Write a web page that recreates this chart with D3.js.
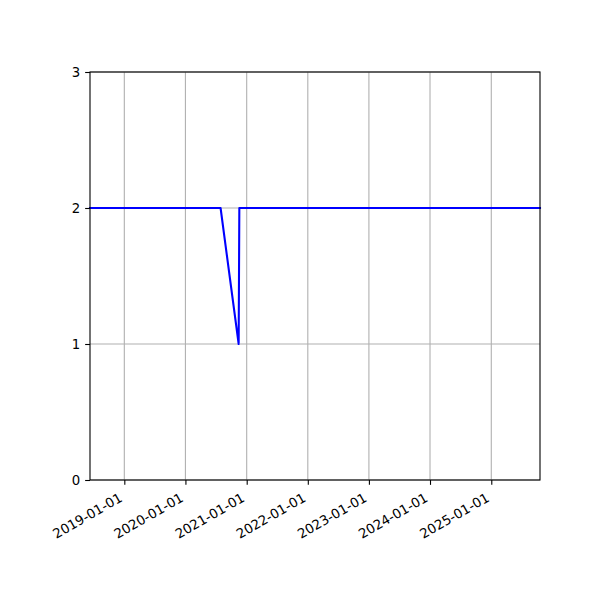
<!DOCTYPE html>
<html>
<head>
<meta charset="utf-8">
<script src="https://d3js.org/d3.v7.min.js"></script>
<style>
body { margin: 0; background: #fff; }
text { font-family: "DejaVu Sans", sans-serif; }
</style>
</head>
<body>
<script>

// data
var dates = ["2018-06-10", "2020-07-29", "2020-11-14", "2020-11-18", "2025-10-19"];
var values = [2, 2, 1, 2, 2];
var xTicks = ["2019-01-01", "2020-01-01", "2021-01-01", "2022-01-01", "2023-01-01", "2024-01-01", "2025-01-01"];
var yTicks = [0, 1, 2, 3];

var w = 600;
var h = 600;
const margin = {top: 72, right: 60, bottom: 120, left: 90};
const width = w - margin.left - margin.right,
    height = h - margin.top - margin.bottom;

const fontSize = 13.3;
const tickLen = 4.86;
const pad = 4.86;
const angle = 30;
const thin = 1.1;   // 0.8pt at 100 dpi

const parse = d3.timeParse("%Y-%m-%d");
const fmt = d3.timeFormat("%Y-%m-%d");

var data = dates.map((d, i) => ({date: parse(d), value: values[i]}));

const svg = d3.select("body").append("svg")
    .attr("width", w)
    .attr("height", h);

const g = svg.append("g")
    .attr("transform", "translate(" + margin.left + "," + margin.top + ")");

const xScale = d3.scaleTime()
    .domain(d3.extent(data, d => d.date))
    .range([0, width]);

const yScale = d3.scaleLinear()
    .domain([0, 3])
    .range([height, 0]);

// grid
g.append("g").selectAll("line")
    .data(xTicks.map(parse))
    .enter().append("line")
    .attr("x1", d => xScale(d)).attr("x2", d => xScale(d))
    .attr("y1", 0).attr("y2", height)
    .attr("stroke", "#b0b0b0").attr("stroke-width", thin);

g.append("g").selectAll("line")
    .data(yTicks)
    .enter().append("line")
    .attr("x1", 0).attr("x2", width)
    .attr("y1", d => yScale(d)).attr("y2", d => yScale(d))
    .attr("stroke", "#b0b0b0").attr("stroke-width", thin);

// line
const line = d3.line()
    .x(d => xScale(d.date))
    .y(d => yScale(d.value));

g.append("path")
    .datum(data)
    .attr("d", line)
    .attr("fill", "none")
    .attr("stroke", "#0000ff")
    .attr("stroke-width", 2.08)
    .attr("stroke-linejoin", "round")
    .attr("stroke-linecap", "square");

// frame
g.append("rect")
    .attr("width", width).attr("height", height)
    .attr("fill", "none")
    .attr("stroke", "#000").attr("stroke-width", thin);

// y axis
const yAxis = g.append("g")
    .call(d3.axisLeft(yScale).tickValues(yTicks).tickSize(tickLen).tickPadding(pad).tickFormat(d3.format("d")));
yAxis.select(".domain").remove();
yAxis.selectAll("line").attr("stroke", "#000").attr("stroke-width", thin);
yAxis.selectAll("text").attr("font-size", fontSize).attr("fill", "#000")
    .attr("font-family", "DejaVu Sans");

// x axis
const xAxis = g.append("g")
    .attr("transform", "translate(0," + height + ")")
    .call(d3.axisBottom(xScale).tickValues(xTicks.map(parse)).tickSize(tickLen).tickFormat(fmt));
xAxis.select(".domain").remove();
xAxis.selectAll("line").attr("stroke", "#000").attr("stroke-width", thin);

// rotated labels: top-right corner of the rotated text box sits under the tick
const rad = angle * Math.PI / 180;
const ascent = 0.928 * fontSize, descent = 0.236 * fontSize;
const ox = -descent * Math.sin(rad);
const oy = tickLen + pad + ascent * Math.cos(rad);
xAxis.selectAll("text")
    .attr("font-size", fontSize).attr("fill", "#000")
    .attr("font-family", "DejaVu Sans")
    .attr("text-anchor", "end")
    .attr("y", 0).attr("dy", 0)
    .attr("transform", "translate(" + ox + "," + oy + ") rotate(" + (-angle) + ")");

</script>
</body>
</html>
